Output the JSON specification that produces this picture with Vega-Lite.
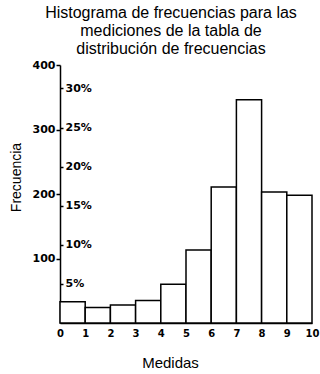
{
  "$schema": "https://vega.github.io/schema/vega-lite/v6.json",
  "width": 252,
  "height": 258,
  "autosize": {"type": "none"},
  "padding": {"left": 60, "top": 65, "right": 8, "bottom": 51},
  "background": "white",
  "title": {
    "text": ["Histograma de frecuencias para las", "mediciones de la tabla de", "distribución de frecuencias"],
    "font": "Liberation Sans",
    "fontSize": 16,
    "fontWeight": "normal",
    "lineHeight": 18,
    "anchor": "middle",
    "frame": "group",
    "dx": -15,
    "offset": 2,
    "color": "black"
  },
  "config": {
    "view": {"stroke": null},
    "axis": {
      "grid": false,
      "domainColor": "black",
      "domainWidth": 1.5,
      "tickColor": "black",
      "tickWidth": 1.5,
      "labelColor": "black",
      "titleColor": "black",
      "labelFont": "DejaVu Sans",
      "labelFontWeight": "bold",
      "labelFontSize": 11,
      "titleFont": "Liberation Sans",
      "titleFontWeight": "normal",
      "titleFontSize": 13
    }
  },
  "data": {
    "values": [
      {"desde": 0, "hasta": 1, "frecuencia": 33},
      {"desde": 1, "hasta": 2, "frecuencia": 24},
      {"desde": 2, "hasta": 3, "frecuencia": 28},
      {"desde": 3, "hasta": 4, "frecuencia": 35},
      {"desde": 4, "hasta": 5, "frecuencia": 60},
      {"desde": 5, "hasta": 6, "frecuencia": 113},
      {"desde": 6, "hasta": 7, "frecuencia": 211},
      {"desde": 7, "hasta": 8, "frecuencia": 346},
      {"desde": 8, "hasta": 9, "frecuencia": 203},
      {"desde": 9, "hasta": 10, "frecuencia": 198}
    ]
  },
  "layer": [
    {
      "mark": {"type": "rect", "fill": "white", "stroke": "black", "strokeWidth": 1.5},
      "encoding": {
        "x": {
          "field": "desde",
          "type": "quantitative",
          "scale": {"domain": [0, 10], "nice": false},
          "axis": {
            "values": [0, 1, 2, 3, 4, 5, 6, 7, 8, 9, 10],
            "tickSize": 0,
            "labelPadding": 5,
            "labelFlush": false,
            "labelFontSize": 10,
            "title": "Medidas",
            "titleFontSize": 15,
            "titlePadding": 17,
            "titleX": 110
          }
        },
        "x2": {"field": "hasta"},
        "y": {
          "field": "frecuencia",
          "type": "quantitative",
          "scale": {"domain": [0, 400], "nice": false},
          "axis": {
            "values": [100, 200, 300, 400],
            "tickSize": 4,
            "labelPadding": 1,
            "title": "Frecuencia",
            "titleFontSize": 14,
            "titlePadding": 9,
            "titleY": 112
          }
        }
      }
    },
    {
      "mark": {"type": "rule", "opacity": 0},
      "encoding": {
        "y": {
          "datum": 0,
          "type": "quantitative",
          "scale": {"domain": [0, 0.33], "nice": false},
          "axis": {
            "orient": "right",
            "offset": -252,
            "values": [0.05, 0.1, 0.15, 0.2, 0.25, 0.3],
            "format": ".0%",
            "title": null,
            "domain": false,
            "tickSize": 3,
            "labelPadding": 2
          }
        }
      }
    }
  ],
  "resolve": {"scale": {"y": "independent"}}
}
